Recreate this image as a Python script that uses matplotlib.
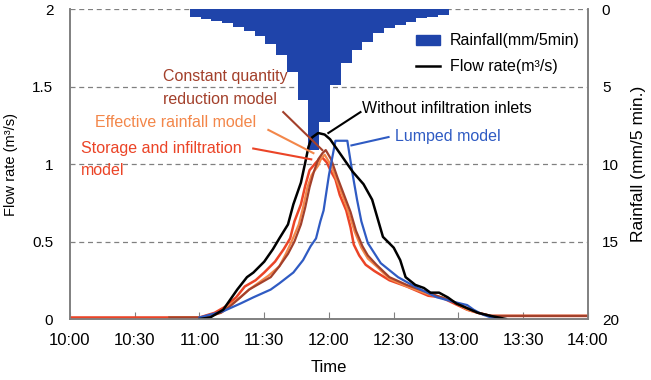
import matplotlib
matplotlib.use("Agg")
import matplotlib.pyplot as plt
from matplotlib.lines import Line2D
from matplotlib.patches import Patch
import numpy as np

plt.rcParams["font.family"] = ["Liberation Sans", "DejaVu Sans"]

# time in minutes after 10:00
tick_min = [0, 30, 60, 90, 120, 150, 180, 210, 240]
tick_lbl = ["10:00", "10:30", "11:00", "11:30", "12:00", "12:30", "13:00", "13:30", "14:00"]

# rainfall (mm/5min), 5-minute bars
rain_t = [58 + 5 * k for k in range(24)]
rain = [0.50, 0.65, 0.77, 0.92, 1.14, 1.42, 1.74, 2.28, 2.97, 4.04, 5.87, 9.10,
        7.29, 4.90, 3.48, 2.65, 2.11, 1.57, 1.25, 1.03, 0.82, 0.60, 0.50, 0.39]

# without infiltration inlets (black)
black_t = [60, 65, 71, 77.5, 82, 85, 90, 94, 97, 101, 103.5, 107, 109, 110.5, 112, 115,
           118, 120.5, 125, 131, 136, 140, 142.5, 145, 150, 153, 155.5, 160, 164, 167,
           171, 175, 179, 184, 189, 195, 202]
black_q = [0.00, 0.01, 0.06, 0.19, 0.27, 0.30, 0.37, 0.45, 0.52, 0.61, 0.74, 0.88, 1.01,
           1.11, 1.17, 1.20, 1.19, 1.16, 1.07, 0.95, 0.87, 0.77, 0.65, 0.53, 0.46, 0.38,
           0.27, 0.22, 0.20, 0.17, 0.17, 0.14, 0.10, 0.07, 0.04, 0.02, 0.00]

# lumped model (blue)
lump_t = [60, 71, 79, 85, 93, 97, 103.5, 108, 111.5, 114, 116, 117.5, 120, 123, 128.5,
          131, 133, 135, 138, 144, 152, 161, 170, 178, 184, 187, 191, 195, 200]
lump_q = [0.01, 0.05, 0.10, 0.14, 0.19, 0.23, 0.30, 0.38, 0.47, 0.52, 0.63, 0.70, 0.93,
          1.15, 1.15, 0.93, 0.77, 0.63, 0.49, 0.36, 0.27, 0.20, 0.14, 0.11, 0.09, 0.06,
          0.03, 0.01, 0.00]

# constant quantity reduction model (brown)
const_t = [46, 63, 70, 74, 79, 83, 88, 93, 97, 101, 104, 107, 109, 111, 113, 115, 117,
           118.5, 121, 124, 127, 130, 132.5, 135.5, 138, 142, 148, 156, 166, 172, 178,
           184, 189, 195, 240]
const_q = [0.01, 0.01, 0.04, 0.08, 0.14, 0.19, 0.23, 0.27, 0.34, 0.42, 0.50, 0.61, 0.72,
           0.85, 0.95, 1.03, 1.07, 1.09, 1.03, 0.91, 0.80, 0.69, 0.57, 0.47, 0.41, 0.35,
           0.27, 0.22, 0.17, 0.14, 0.11, 0.07, 0.04, 0.02, 0.02]

# effective rainfall model (orange)
eff_t = [46, 63, 69, 73, 78, 83, 87, 92, 97, 100, 103, 106, 108, 110, 112, 115, 116.5,
         118, 121, 124, 127, 129.5, 132, 135, 138, 142, 148, 156, 166, 172, 178, 184,
         189, 195, 240]
eff_q = [0.01, 0.01, 0.04, 0.08, 0.13, 0.19, 0.23, 0.28, 0.34, 0.42, 0.51, 0.61, 0.72,
         0.85, 0.93, 0.99, 1.04, 1.06, 0.99, 0.88, 0.77, 0.67, 0.56, 0.46, 0.39, 0.34,
         0.26, 0.21, 0.16, 0.14, 0.11, 0.06, 0.04, 0.02, 0.02]

# storage and infiltration model (red)
stor_t = [0, 46, 60, 67, 72, 77, 81, 86, 90, 95, 99, 102, 104, 107, 109, 111, 114, 115.5,
          117, 119, 121, 123, 125, 128, 130, 131.5, 134, 137, 141, 148, 156, 166, 172,
          178, 184, 189, 195, 240]
stor_q = [0.01, 0.01, 0.01, 0.04, 0.08, 0.14, 0.21, 0.25, 0.30, 0.37, 0.45, 0.52, 0.63,
          0.74, 0.86, 0.96, 1.01, 1.03, 1.04, 1.01, 0.95, 0.90, 0.80, 0.70, 0.59, 0.48,
          0.41, 0.35, 0.31, 0.25, 0.21, 0.15, 0.14, 0.10, 0.06, 0.04, 0.02, 0.02]

c_bar = "#1F44AA"
c_blue = "#2F5BC3"
c_brown = "#A3402B"
c_orange = "#F3874A"
c_red = "#EB4427"
c_axis = "#808080"

fig = plt.figure(figsize=(6.51, 3.80), dpi=100)
ax = fig.add_axes([0.1075, 0.1605, 0.7957, 0.8158])
ax2 = ax.twinx()
ax.set_zorder(ax2.get_zorder() + 1)
ax.patch.set_visible(False)

# rainfall bars (hanging from top)
ax2.bar(rain_t, rain, width=5, color=c_bar, zorder=2)
ax2.set_ylim(20, 0)
ax2.set_yticks([0, 5, 10, 15, 20])
ax2.grid(axis="y", color="#808080", linestyle=(0, (4, 3)), linewidth=0.9, zorder=0)
ax2.set_axisbelow(True)
ax2.tick_params(axis="y", length=0, pad=10, labelsize=11)
ax2.set_ylabel("Rainfall (mm/5 min.)", fontsize=12.5, labelpad=9)

# flow curves
ax.plot(stor_t, stor_q, color=c_red, lw=1.8)
ax.plot(eff_t, eff_q, color=c_orange, lw=1.6)
ax.plot(const_t, const_q, color=c_brown, lw=1.6)
ax.plot(lump_t, lump_q, color=c_blue, lw=1.6)
ax.plot(black_t, black_q, color="black", lw=1.8)

ax.set_xlim(0, 240)
ax.set_ylim(0, 2)
ax.set_yticks([0, 0.5, 1, 1.5, 2])
ax.set_yticklabels(["0", "0.5", "1", "1.5", "2"])
ax.set_xticks(tick_min)
ax.set_xticklabels(tick_lbl)
ax.tick_params(axis="x", direction="in", length=5, color=c_axis, pad=10, labelsize=12)
ax.tick_params(axis="y", length=0, pad=12, labelsize=11)
ax.set_xlabel("Time", fontsize=12, labelpad=9)
ax.set_ylabel("Flow rate (m³/s)", fontsize=10.5, labelpad=10)

for a in (ax, ax2):
    a.spines["top"].set_visible(False)
    for s in ("left", "right", "bottom"):
        a.spines[s].set_color(c_axis)
        a.spines[s].set_linewidth(1.2)

# annotations
fs = 11.5
ax.text(43, 1.49, "Constant quantity\nreduction model", color=c_brown, fontsize=fs,
        va="center", ha="left", linespacing=1.6)
ax.plot([98.8, 116.9], [1.335, 1.09], color=c_brown, lw=1.5)

ax.text(11.6, 1.27, "Effective rainfall model", color=c_orange, fontsize=fs, va="center")
ax.plot([91.9, 112.8], [1.22, 1.07], color=c_orange, lw=1.5)

ax.text(5.1, 1.03, "Storage and infiltration\nmodel", color=c_red, fontsize=fs,
        va="center", ha="left", linespacing=1.6)
ax.plot([84.9, 111.8], [1.10, 1.03], color=c_red, lw=1.5)

ax.text(135.5, 1.36, "Without infiltration inlets", color="black", fontsize=fs, va="center")
ax.plot([134.6, 119.7], [1.335, 1.20], color="black", lw=1.5)

ax.text(150.8, 1.18, "Lumped model", color=c_blue, fontsize=fs, va="center")
ax.plot([147.6, 130.4], [1.174, 1.12], color=c_blue, lw=1.5)

handles = [Patch(color=c_bar), Line2D([0], [0], color="black", lw=1.8)]
ax.legend(handles, ["Rainfall(mm/5min)", "Flow rate(m³/s)"], loc="upper right",
          bbox_to_anchor=(1.012, 0.968), frameon=False, fontsize=11.5,
          handlelength=1.5, handleheight=0.6, handletextpad=0.6, labelspacing=0.7)

fig.savefig("out.png", dpi=100)
